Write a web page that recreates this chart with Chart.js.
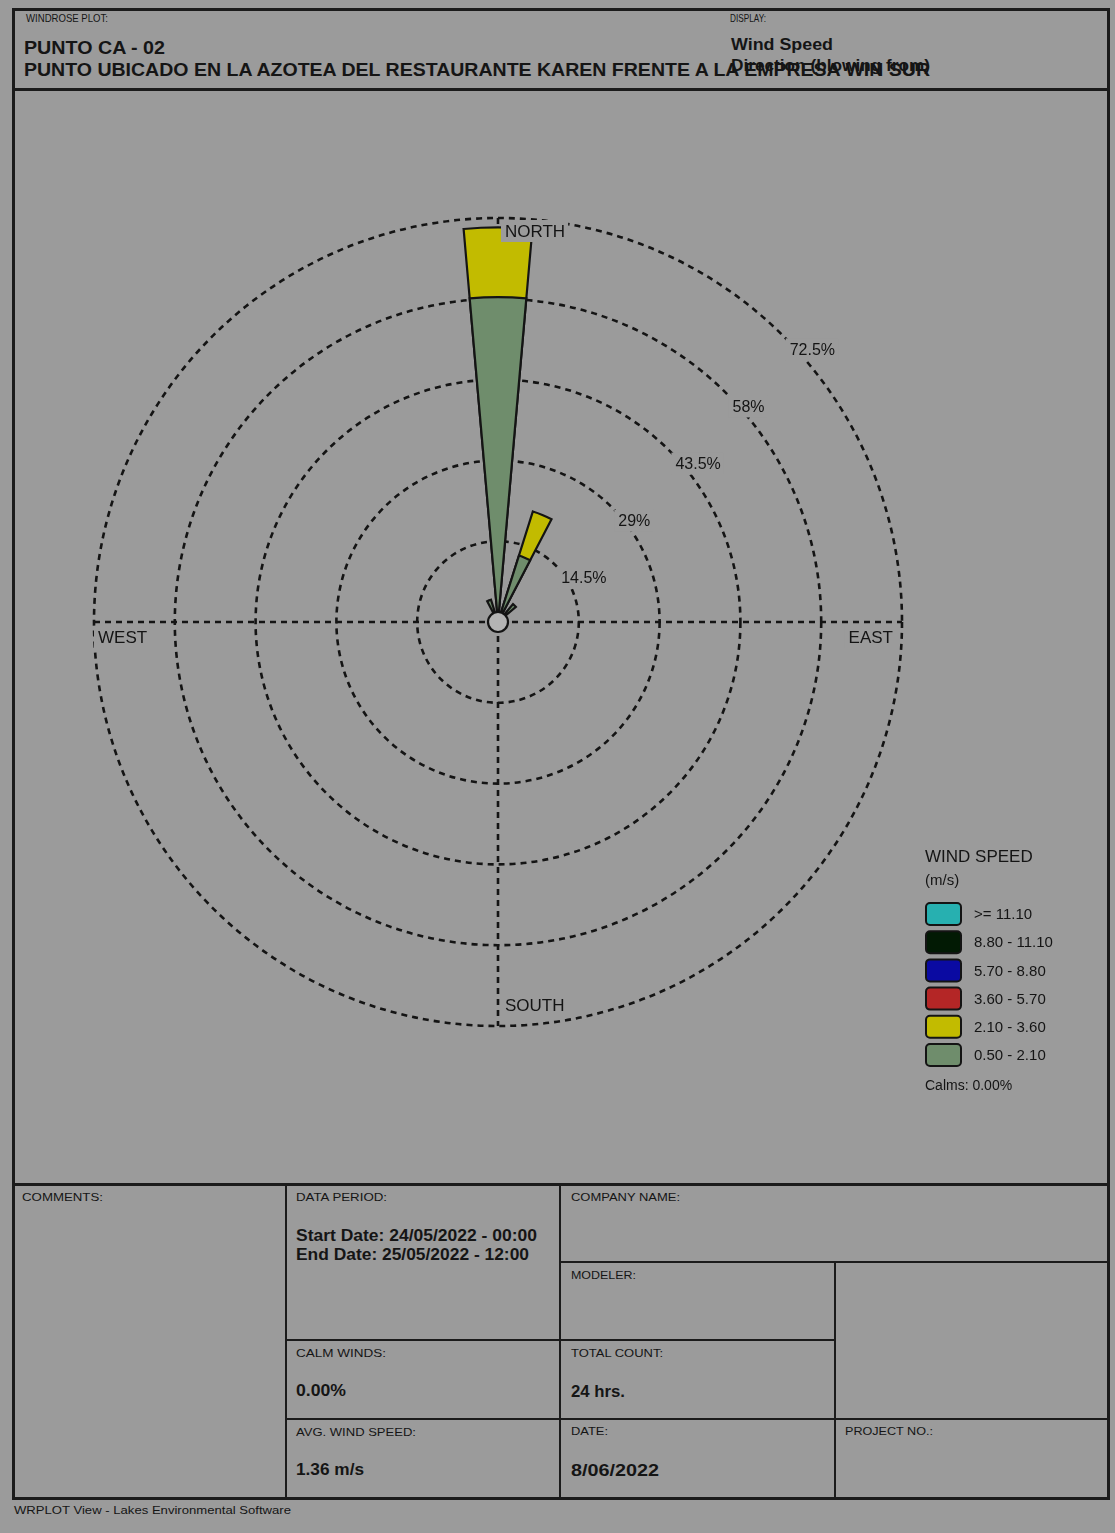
<!DOCTYPE html>
<html>
<head>
<meta charset="utf-8">
<title>Wind Rose - Punto CA-02</title>
<script src="https://cdn.jsdelivr.net/npm/chart.js@4.4.1/dist/chart.umd.min.js"></script>
<style>
  html, body { margin: 0; padding: 0; background: #9b9b9b; }
  #page { position: relative; width: 1115px; height: 1533px; background: #9b9b9b; overflow: hidden;
          font-family: "Liberation Sans", Arial, sans-serif; color: #151515; }
  .ln { position: absolute; background: #1b1b1b; }
  .t { position: absolute; white-space: nowrap; line-height: 1; transform-origin: left center; transform: translateY(-50%); }
  .s { font-size: 11px; }
  .b { font-size: 16px; font-weight: bold; }
  .h { font-size: 18px; font-weight: bold; }
  #rose { position: absolute; left: 14px; top: 92px; }
</style>
</head>
<body>
<div id="page">
  <!-- frame -->
  <div class="ln" style="left:12px;top:8px;width:1098px;height:3px"></div>
  <div class="ln" style="left:12px;top:1497px;width:1098px;height:3px"></div>
  <div class="ln" style="left:12px;top:8px;width:3px;height:1492px"></div>
  <div class="ln" style="left:1107px;top:8px;width:3px;height:1492px"></div>
  <div class="ln" style="left:12px;top:88px;width:1098px;height:3px"></div>
  <div class="ln" style="left:12px;top:1183px;width:1098px;height:3px"></div>
  <div class="ln" style="left:285px;top:1184px;width:2px;height:315px"></div>
  <div class="ln" style="left:559px;top:1184px;width:2px;height:315px"></div>
  <div class="ln" style="left:560px;top:1261px;width:550px;height:2px"></div>
  <div class="ln" style="left:834px;top:1262px;width:2px;height:237px"></div>
  <div class="ln" style="left:286px;top:1339px;width:549px;height:2px"></div>
  <div class="ln" style="left:286px;top:1418px;width:824px;height:2px"></div>

  <!-- header -->
  <div class="t s" style="left:26px;top:18px" data-w="82">WINDROSE PLOT:</div>
  <div class="t s" style="left:730px;top:18px" data-w="36">DISPLAY:</div>
  <div class="t h" style="left:24px;top:48px" data-w="141">PUNTO CA - 02</div>
  <div class="t h" style="left:24px;top:70px" data-w="906">PUNTO UBICADO EN LA AZOTEA DEL RESTAURANTE KAREN FRENTE A LA EMPRESA WIN SUR</div>
  <div class="t b" style="left:731px;top:45px" data-w="102">Wind Speed</div>
  <div class="t b" style="left:731px;top:66px" data-w="199">Direction (blowing from)</div>

  <canvas id="rose" width="1094" height="1091"></canvas>

  <!-- info table -->
  <div class="t s" style="left:22px;top:1197px" data-w="81">COMMENTS:</div>
  <div class="t s" style="left:296px;top:1197px" data-w="91">DATA PERIOD:</div>
  <div class="t b" style="left:296px;top:1236px" data-w="241">Start Date: 24/05/2022 - 00:00</div>
  <div class="t b" style="left:296px;top:1255px" data-w="233">End Date: 25/05/2022 - 12:00</div>
  <div class="t s" style="left:296px;top:1353px" data-w="90">CALM WINDS:</div>
  <div class="t b" style="left:296px;top:1391px" data-w="50">0.00%</div>
  <div class="t s" style="left:296px;top:1432px" data-w="120">AVG. WIND SPEED:</div>
  <div class="t b" style="left:296px;top:1470px" data-w="68">1.36 m/s</div>
  <div class="t s" style="left:571px;top:1197px" data-w="109">COMPANY NAME:</div>
  <div class="t s" style="left:571px;top:1275px" data-w="65">MODELER:</div>
  <div class="t s" style="left:571px;top:1353px" data-w="92">TOTAL COUNT:</div>
  <div class="t b" style="left:571px;top:1392px" data-w="54">24 hrs.</div>
  <div class="t s" style="left:571px;top:1431px" data-w="37">DATE:</div>
  <div class="t b" style="left:571px;top:1471px" data-w="88">8/06/2022</div>
  <div class="t s" style="left:845px;top:1431px" data-w="88">PROJECT NO.:</div>
  <div class="t s" style="left:14px;top:1510px" data-w="277">WRPLOT View - Lakes Environmental Software</div>
</div>

<script>
// 16 compass directions, clockwise from north
const directions = ["N", "NNE", "NE", "ENE", "E", "ESE", "SE", "SSE",
                    "S", "SSW", "SW", "WSW", "W", "WNW", "NW", "NNW"];

// frequency (%) per direction for each wind speed class (m/s)
const freq_050_210 = [58.3, 12.5, 4.2, 0, 0, 0, 0, 0, 0, 0, 0, 0, 0, 0, 0, 4.2];
const freq_210_360 = [12.5, 8.3, 0, 0, 0, 0, 0, 0, 0, 0, 0, 0, 0, 0, 0, 0];
const freq_360_570 = [0, 0, 0, 0, 0, 0, 0, 0, 0, 0, 0, 0, 0, 0, 0, 0];
const freq_570_880 = [0, 0, 0, 0, 0, 0, 0, 0, 0, 0, 0, 0, 0, 0, 0, 0];
const freq_880_1110 = [0, 0, 0, 0, 0, 0, 0, 0, 0, 0, 0, 0, 0, 0, 0, 0];
const freq_ge_1110 = [0, 0, 0, 0, 0, 0, 0, 0, 0, 0, 0, 0, 0, 0, 0, 0];

// speed classes, lowest first
const speedLabels = ["0.50 - 2.10", "2.10 - 3.60", "3.60 - 5.70", "5.70 - 8.80", "8.80 - 11.10", ">= 11.10"];
const speedColors = ["#6f8d6c", "#c2bb00", "#b42626", "#0a0aa2", "#021a04", "#27b0b0"];

// rings
const ringValues = [14.5, 29, 43.5, 58, 72.5];
const ringLabels = ["14.5%", "29%", "43.5%", "58%", "72.5%"];
const compassLabels = ["NORTH", "EAST", "SOUTH", "WEST"];
const calmsText = "Calms: 0.00%";

const petalAngle = 10; // degrees of each petal
const gapAngle = 22.5 - petalAngle;
const ink = "#141414";
const paper = "#9b9b9b";

// squeeze header/table text to the widths seen in the plot
document.querySelectorAll("[data-w]").forEach((el) => {
  const w = el.getBoundingClientRect().width;
  const k = parseFloat(el.dataset.w) / w;
  el.style.transform = `translateY(-50%) scaleX(${k})`;
});

// stacked petals: each class drawn from centre out to its cumulative value
const series = [freq_050_210, freq_210_360, freq_360_570, freq_570_880, freq_880_1110, freq_ge_1110];
const slotLabels = [];
directions.forEach((d) => { slotLabels.push(d); slotLabels.push(""); });
let running = directions.map(() => 0);
const datasets = series.map((vals, k) => {
  running = running.map((v, i) => v + vals[i]);
  const data = [];
  directions.forEach((d, i) => {
    data.push(vals[i] > 0 ? running[i] : 0);
    data.push(0);
  });
  return {
    label: speedLabels[k],
    data,
    backgroundColor: speedColors[k],
    borderColor: ink,
    borderWidth: 2.2,
    borderJoinStyle: "miter",
    angle: (c) => (c.dataIndex % 2 === 0 ? petalAngle : gapAngle),
  };
});

const roseDecor = {
  id: "roseDecor",
  beforeDatasetsDraw(chart) {
    const ctx = chart.ctx;
    const s = chart.scales.r;
    const R = s.getDistanceFromCenterForValue(s.max);
    ctx.save();
    ctx.strokeStyle = ink;
    ctx.lineWidth = 2.6;
    ctx.setLineDash([6, 5]);
    ctx.beginPath();
    ctx.moveTo(s.xCenter - R, s.yCenter);
    ctx.lineTo(s.xCenter + R, s.yCenter);
    ctx.moveTo(s.xCenter, s.yCenter - R);
    ctx.lineTo(s.xCenter, s.yCenter + R);
    ctx.stroke();
    ctx.restore();
  },
  afterDatasetsDraw(chart) {
    const ctx = chart.ctx;
    const s = chart.scales.r;
    const xc = s.xCenter, yc = s.yCenter;
    const R = s.getDistanceFromCenterForValue(s.max);
    ctx.save();

    // calm circle
    ctx.beginPath();
    ctx.arc(xc, yc, 10, 0, Math.PI * 2);
    ctx.fillStyle = "#b4b4b4";
    ctx.fill();
    ctx.lineWidth = 2.2;
    ctx.strokeStyle = ink;
    ctx.stroke();

    const label = (txt, x, y, align, font) => {
      ctx.font = font;
      const w = ctx.measureText(txt).width;
      const left = align === "right" ? x - w : x;
      ctx.fillStyle = paper;
      ctx.fillRect(left - 4, y - 11, w + 7, 22);
      ctx.fillStyle = ink;
      ctx.textAlign = "left";
      ctx.textBaseline = "middle";
      ctx.fillText(txt, left, y + 1);
    };

    // compass labels
    const cf = '17px "Liberation Sans", Arial, sans-serif';
    label(compassLabels[0], xc + 7, yc - R + 13, "left", cf);
    label(compassLabels[1], xc + R - 9, yc + 15, "right", cf);
    label(compassLabels[2], xc + 7, yc + R - 21, "left", cf);
    label(compassLabels[3], xc - R + 4, yc + 15, "left", cf);

    // ring labels along the NE diagonal
    const rf = '16px "Liberation Sans", Arial, sans-serif';
    ringValues.forEach((v, i) => {
      const d = s.getDistanceFromCenterForValue(v);
      const px = xc + d * Math.SQRT1_2;
      const py = yc - d * Math.SQRT1_2;
      label(ringLabels[i], px + 6, py + 13, "left", rf);
    });

    // legend
    const area = chart.chartArea;
    const lx = area.right + 23;
    const ly = area.bottom - 169;
    ctx.fillStyle = ink;
    ctx.textAlign = "left";
    ctx.textBaseline = "middle";
    ctx.font = '17px "Liberation Sans", Arial, sans-serif';
    ctx.fillText("WIND SPEED", lx, ly);
    ctx.font = '15px "Liberation Sans", Arial, sans-serif';
    ctx.fillText("(m/s)", lx, ly + 24);
    const sets = chart.data.datasets.slice().reverse();
    sets.forEach((ds, i) => {
      const cy = ly + 57 + i * 28.2;
      ctx.beginPath();
      ctx.roundRect(lx + 1, cy - 11, 35, 22, 4);
      ctx.fillStyle = ds.backgroundColor;
      ctx.fill();
      ctx.lineWidth = 2;
      ctx.strokeStyle = ink;
      ctx.stroke();
      ctx.fillStyle = ink;
      ctx.font = '15px "Liberation Sans", Arial, sans-serif';
      ctx.fillText(ds.label, lx + 49, cy + 1);
    });
    ctx.font = '14px "Liberation Sans", Arial, sans-serif';
    ctx.fillText(calmsText, lx, ly + 229);
    ctx.restore();
  },
};

new Chart(document.getElementById("rose"), {
  type: "polarArea",
  data: { labels: slotLabels, datasets },
  options: {
    responsive: false,
    animation: false,
    events: [],
    layout: { padding: { left: 80, top: 126, right: 206, bottom: 157 } },
    plugins: { legend: { display: false }, tooltip: { enabled: false } },
    scales: {
      r: {
        min: 0,
        max: ringValues[ringValues.length - 1],
        startAngle: -petalAngle / 2,
        afterBuildTicks: (sc) => {
          sc.ticks = [0, ...ringValues].map((v) => ({ value: v }));
        },
        ticks: { display: false },
        grid: { circular: true, color: ink, lineWidth: 2.6 },
        border: { dash: [6, 5] },
        angleLines: { display: false },
        pointLabels: { display: false },
      },
    },
  },
  plugins: [roseDecor],
});
</script>
</body>
</html>
